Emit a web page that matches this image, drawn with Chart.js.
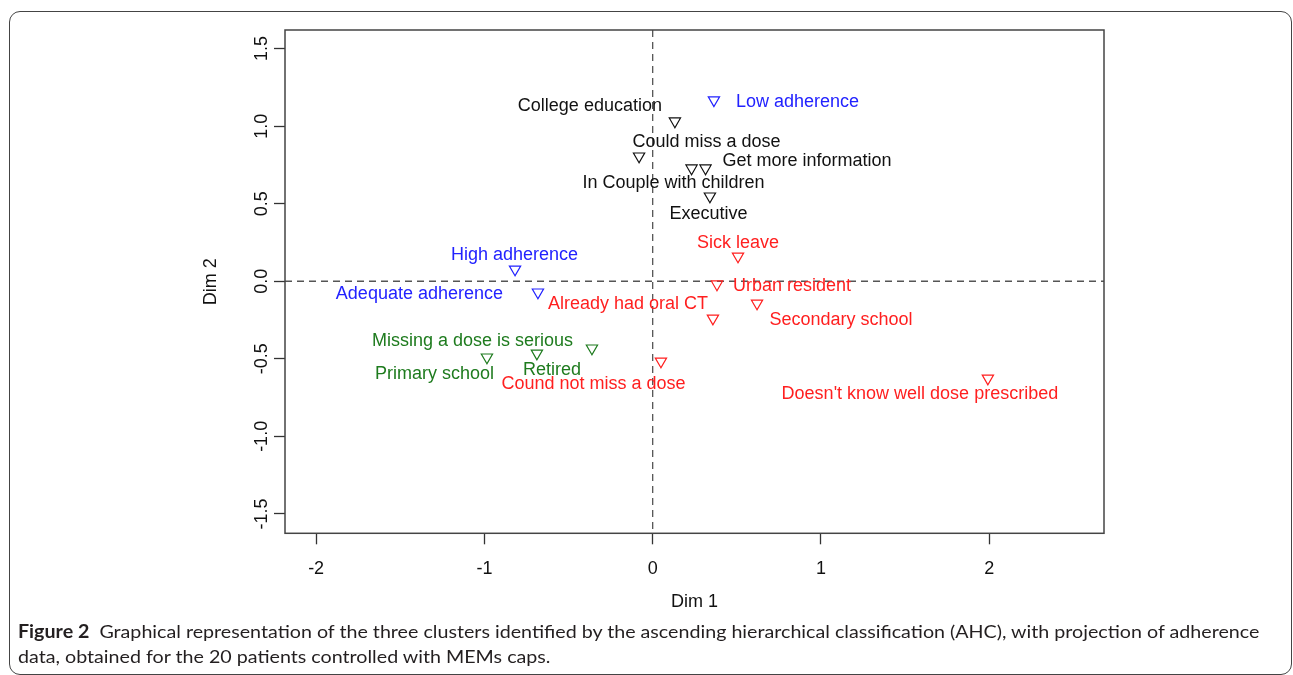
<!DOCTYPE html>
<html>
<head>
<meta charset="utf-8">
<script src="https://cdn.jsdelivr.net/npm/chart.js@4/dist/chart.umd.min.js"></script>
<style>
    body { margin: 0; background: #fff; width: 1293px; height: 675px; overflow: hidden; position: relative; }
    #frame { position: absolute; left: 9px; top: 11px; width: 1281px; height: 662px; border: 1.5px solid #444; border-radius: 11px; }
    #wrap { position: absolute; left: 180px; top: 20px; width: 950px; height: 600px; }
    #caption { position: absolute; left: 18px; top: 619px; font-family: Lato, sans-serif; font-size: 18px; color: #231f20; line-height: 25px; white-space: nowrap; transform-origin: 0 0; }
</style>
</head>
<body>
<div id="frame"></div>
<div id="wrap"><canvas id="ahcPlot"></canvas></div>
<div id="caption">
    <div id="capLine1"><b>Figure 2</b>&nbsp; Graphical representation of the three clusters identified by the ascending hierarchical classification (AHC), with projection of adherence</div>
    <div>data, obtained for the 20 patients controlled with MEMs caps.</div>
</div>
<script>
// modalities and their coordinates on the first two dimensions
var modalities = ['Low adherence', 'College education', 'In Couple with children', 'Could miss a dose',
    'Get more information', 'Executive', 'Sick leave', 'Urban resident', 'Secondary school',
    'Already had oral CT', 'High adherence', 'Adequate adherence', 'Missing a dose is serious',
    'Primary school', 'Retired', 'Cound not miss a dose', "Doesn't know well dose prescribed"];
var dim1 = [0.364, 0.132, -0.081, 0.231, 0.314, 0.340, 0.507, 0.382, 0.620, 0.358, -0.818, -0.682, -0.361, -0.985, -0.688, 0.049, 1.992];
var dim2 = [1.168, 1.032, 0.806, 0.729, 0.729, 0.548, 0.161, -0.019, -0.142, -0.239, 0.077, -0.071, -0.432, -0.490, -0.465, -0.516, -0.626];
// 0 = cluster 1 (black), 1 = adherence (blue), 2 = cluster 2 (red), 3 = cluster 3 (green)
var cluster = [1, 0, 0, 0, 0, 0, 2, 2, 2, 2, 1, 1, 3, 3, 3, 2, 2];

var xTicks = [-2, -1, 0, 1, 2];
var xTickLabels = ['-2', '-1', '0', '1', '2'];
var yTicks = [-1.5, -1.0, -0.5, 0.0, 0.5, 1.0, 1.5];
var yTickLabels = ['-1.5', '-1.0', '-0.5', '0.0', '0.5', '1.0', '1.5'];

// styles / label placement (pixels, relative to the marker)
var clusterColors = ['#111111', '#2222ff', '#ff1f1f', '#1e7b1e'];
var labelDx = [83.5, -85, 34.5, 15, 101.5, -1.5, 0, 75, 84, -85, -0.5, -118.5, -119.5, -52.5, 15, -67.5, -68];
var labelDy = [1.5, -15.5, 26.5, -26.5, -7.5, 17.5, -13.5, 1.5, 16.5, -14.5, -14.5, 1.5, -7.5, 16.5, 16.5, 22.5, 15.5];
var fontFam = '"Liberation Sans", Arial, sans-serif';

var datasets = clusterColors.map(function(col, c) {
    var pts = [];
    modalities.forEach(function(m, i) {
        if (cluster[i] === c) pts.push({ x: dim1[i], y: dim2[i] });
    });
    return {
        data: pts,
        pointStyle: 'triangle',
        rotation: 180,
        radius: 6.5,
        hoverRadius: 6.5,
        borderWidth: 1.2,
        borderColor: col,
        backgroundColor: 'rgba(0,0,0,0)'
    };
});

var boxPlugin = {
    id: 'box',
    beforeDatasetsDraw: function(chart) {
        var ctx = chart.ctx, a = chart.chartArea;
        var x0 = chart.scales.x.getPixelForValue(0), y0 = chart.scales.y.getPixelForValue(0);
        ctx.save();
        ctx.strokeStyle = '#555';
        ctx.lineWidth = 1.3;
        ctx.setLineDash([7, 5]);
        ctx.beginPath();
        ctx.moveTo(x0, a.top); ctx.lineTo(x0, a.bottom);
        ctx.moveTo(a.left, y0); ctx.lineTo(a.right, y0);
        ctx.stroke();
        ctx.setLineDash([]);
        ctx.strokeStyle = '#444';
        ctx.lineWidth = 1.5;
        ctx.strokeRect(a.left, a.top, a.right - a.left, a.bottom - a.top);
        ctx.restore();
    },
    afterDatasetsDraw: function(chart) {
        var ctx = chart.ctx, xs = chart.scales.x, ys = chart.scales.y;
        ctx.save();
        ctx.font = '18px ' + fontFam;
        ctx.textAlign = 'center';
        ctx.textBaseline = 'middle';
        modalities.forEach(function(m, i) {
            ctx.fillStyle = clusterColors[cluster[i]];
            ctx.fillText(m, xs.getPixelForValue(dim1[i]) + labelDx[i], ys.getPixelForValue(dim2[i]) + labelDy[i]);
        });
        ctx.restore();
    }
};

var ahcChart = new Chart(document.getElementById('ahcPlot'), {
    type: 'scatter',
    data: { datasets: datasets },
    options: {
        responsive: true,
        maintainAspectRatio: false,
        animation: false,
        events: [],
        layout: { padding: { left: 0, right: 26, top: 10, bottom: 0 } },
        plugins: { legend: { display: false }, tooltip: { enabled: false } },
        scales: {
            x: {
                type: 'linear',
                min: -2.185,
                max: 2.682,
                afterBuildTicks: function(s) { s.ticks = xTicks.map(function(v) { return { value: v }; }); },
                afterFit: function(s) { s.height = 86.7; },
                ticks: {
                    autoSkip: false, maxRotation: 0, padding: 14, color: '#111',
                    font: { family: fontFam, size: 18 },
                    callback: function(v, i) { return xTickLabels[i]; }
                },
                grid: { drawOnChartArea: false, tickLength: 11, tickColor: '#333', tickWidth: 1.3 },
                border: { display: false },
                title: { display: true, text: 'Dim 1', color: '#111', font: { family: fontFam, size: 18 }, padding: { top: 0, bottom: 7 } }
            },
            y: {
                type: 'linear',
                min: -1.625,
                max: 1.62,
                afterBuildTicks: function(s) { s.ticks = yTicks.map(function(v) { return { value: v }; }); },
                afterFit: function(s) { s.width = 105; },
                ticks: {
                    autoSkip: false, minRotation: 90, maxRotation: 90, crossAlign: 'center', padding: -4, color: '#111',
                    font: { family: fontFam, size: 18 },
                    callback: function(v, i) { return yTickLabels[i]; }
                },
                grid: { drawOnChartArea: false, tickLength: 11, tickColor: '#333', tickWidth: 1.3 },
                border: { display: false },
                title: { display: true, text: 'Dim 2', color: '#111', font: { family: fontFam, size: 18 }, padding: { top: 20, bottom: 0 } }
            }
        }
    },
    plugins: [boxPlugin]
});

// squeeze the caption to the width of the printed line
var cap = document.getElementById('caption');
var w = document.getElementById('capLine1').scrollWidth;
cap.style.transform = 'scaleX(' + (1241 / w) + ')';
</script>
</body>
</html>
